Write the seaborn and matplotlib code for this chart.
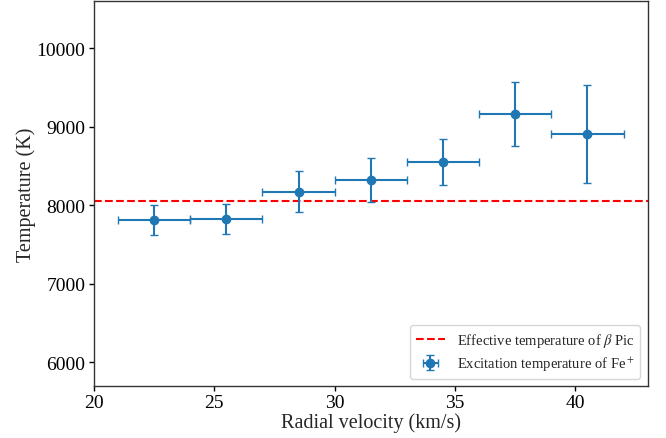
import matplotlib
matplotlib.use("Agg")
import matplotlib.pyplot as plt
import seaborn as sns
import numpy as np

# Data
velocity = [22.5, 25.5, 28.5, 31.5, 34.5, 37.5, 40.5]
velocity_err = [1.5, 1.5, 1.5, 1.5, 1.5, 1.5, 1.5]
temperature = [7815, 7825, 8175, 8321, 8548, 9163, 8909]
temperature_err = [187, 189, 259, 278, 292, 407, 619]
t_eff = 8052

sns.set_style("ticks")
plt.rcParams['font.family'] = ['Liberation Serif', 'DejaVu Serif']
plt.rcParams['mathtext.fontset'] = 'stix'
plt.rcParams['axes.edgecolor'] = '#333333'
plt.rcParams['xtick.color'] = 'black'
plt.rcParams['ytick.color'] = 'black'

fig, ax = plt.subplots(figsize=(6.66, 4.39), dpi=100)
fig.subplots_adjust(left=0.141, right=0.9725, top=0.995, bottom=0.1185)

ax.axhline(t_eff, color='red', ls='--', lw=1.5,
           label=r'Effective temperature of $\beta$ Pic')
ax.errorbar(velocity, temperature, xerr=velocity_err, yerr=temperature_err,
            fmt='o', color='#1f77b4', ms=6, capsize=3, elinewidth=1.5,
            label=r'Excitation temperature of Fe$^+$')

ax.set_xlim(20, 43)
ax.set_ylim(5700, 10600)
ax.set_xticks([20, 25, 30, 35, 40])
ax.set_yticks([6000, 7000, 8000, 9000, 10000])
ax.tick_params(labelsize=14, direction='out', length=3.5, width=1, pad=2.5)
ax.set_xlabel('Radial velocity (km/s)', fontsize=14.5, labelpad=1)
ax.set_ylabel('Temperature (K)', fontsize=14.5, labelpad=0.5)
for s in ax.spines.values():
    s.set_linewidth(1.0)

ax.legend(loc='lower right', fontsize=10.5, frameon=True, fancybox=True,
          edgecolor='#cccccc', labelspacing=0.4)

fig.savefig('out.png', dpi=100)
